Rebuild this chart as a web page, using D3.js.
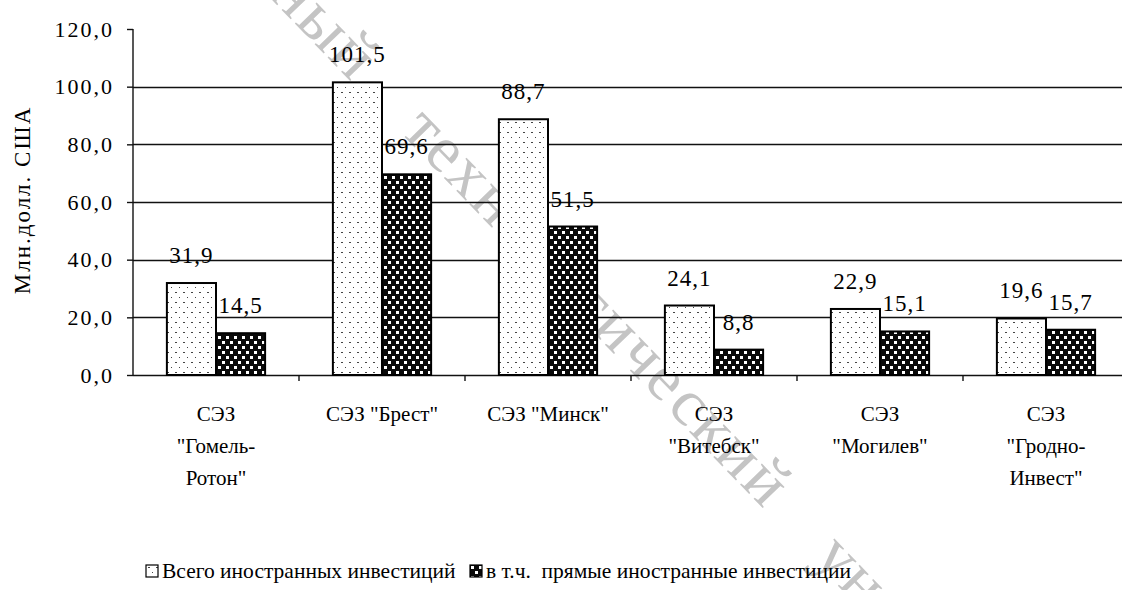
<!DOCTYPE html>
<html>
<head>
<meta charset="utf-8">
<title>СЭЗ инвестиции</title>
<script src="https://cdn.jsdelivr.net/npm/d3@7"></script>
<style>
  body { margin: 0; background: #fff; }
  svg text { font-family: "Liberation Serif", "Times New Roman", "DejaVu Serif", serif; fill: #000; }
</style>
</head>
<body>
<script>

// data
var categories = ["Гомель", "Брест", "Минск", "Витебск", "Могилев", "Гродно"];
var catLabels = [
  ["СЭЗ", "\"Гомель-", "Ротон\""],
  ["СЭЗ \"Брест\""],
  ["СЭЗ \"Минск\""],
  ["СЭЗ", "\"Витебск\""],
  ["СЭЗ", "\"Могилев\""],
  ["СЭЗ", "\"Гродно-", "Инвест\""]
];
var totalInv = [31.9, 101.5, 88.7, 24.1, 22.9, 19.6];
var directInv = [14.5, 69.6, 51.5, 8.8, 15.1, 15.7];
var seriesNames = ["Всего иностранных инвестиций", "в т.ч.  прямые иностранные инвестиции"];
var yTicks = [0, 20, 40, 60, 80, 100, 120];

var w = 1122, h = 590;
var mLeft = 133, mRight = 1129, mTop = 29, mBottom = 375;

var svg = d3.select("body").append("svg")
  .attr("width", w)
  .attr("height", h)
  .attr("font-family", "Liberation Serif, serif");

// fill patterns
var defs = svg.append("defs");
var pLight = defs.append("pattern")
  .attr("id", "light")
  .attr("patternUnits", "userSpaceOnUse")
  .attr("width", 8).attr("height", 10);
pLight.append("rect").attr("width", 8).attr("height", 10).attr("fill", "#fff");
pLight.append("rect").attr("x", 2).attr("y", 2).attr("width", 2).attr("height", 1).attr("fill", "#444");
pLight.append("rect").attr("x", 6).attr("y", 7).attr("width", 1).attr("height", 1).attr("fill", "#444");

var pDark = defs.append("pattern")
  .attr("id", "dark")
  .attr("patternUnits", "userSpaceOnUse")
  .attr("width", 8).attr("height", 10);
pDark.append("rect").attr("width", 8).attr("height", 10).attr("fill", "#0a0a0a");
pDark.append("rect").attr("x", 1).attr("y", 1).attr("width", 3).attr("height", 3).attr("fill", "#fff");
pDark.append("rect").attr("x", 5).attr("y", 6).attr("width", 3).attr("height", 3).attr("fill", "#fff");

// watermark from the scan
var wm = svg.append("g")
  .attr("transform", "translate(600,305) rotate(46)")
  .style("font-size", "66px")
  .attr("letter-spacing", 3);
wm.append("text").attr("x", 0).attr("y", 24).attr("text-anchor", "middle")
  .style("fill", "#c4c4c4").text("технологический");
wm.append("text").attr("x", -330).attr("y", 24).attr("text-anchor", "end")
  .style("fill", "#c4c4c4").text("государственный");
wm.append("text").attr("x", 330).attr("y", 24).attr("text-anchor", "start")
  .style("fill", "#c4c4c4").text("университет");

var y = d3.scaleLinear().domain([0, 120]).range([mBottom, mTop]);
var x0 = d3.scaleBand().domain(categories).range([mLeft, mRight]);
var x1 = d3.scaleBand().domain([0, 1]).range([0, x0.bandwidth()]).paddingOuter(0.69);

// gridlines (not at 0 or 120)
svg.append("g").selectAll("line")
  .data(yTicks.filter(function(d){ return d > 0 && d < 120; }))
  .enter().append("line")
  .attr("x1", mLeft).attr("x2", w)
  .attr("y1", function(d){ return Math.round(y(d)) + 0.5; })
  .attr("y2", function(d){ return Math.round(y(d)) + 0.5; })
  .attr("stroke", "#111")
  .attr("stroke-width", 1.4);

// y axis
var yAxis = d3.axisLeft(y)
  .tickValues(yTicks)
  .tickSize(6)
  .tickPadding(13)
  .tickFormat(function(d){ return d3.format(".1f")(d).replace(".", ","); });
var gy = svg.append("g").attr("transform", "translate(" + mLeft + ",0)").call(yAxis);
gy.attr("font-family", null);
gy.select(".domain").attr("stroke", "#111").attr("stroke-width", 1.4).attr("d", "M0," + mTop + "V" + mBottom);
gy.selectAll(".tick line").attr("stroke", "#111").attr("stroke-width", 1.4);
gy.selectAll("text")
  .attr("font-size", 22)
  .attr("letter-spacing", 2)
  .style("fill", "#000");

// x axis line and category boundary ticks
svg.append("line")
  .attr("x1", mLeft).attr("x2", w)
  .attr("y1", mBottom + 0.5).attr("y2", mBottom + 0.5)
  .attr("stroke", "#111").attr("stroke-width", 1.4);
svg.append("g").selectAll("line")
  .data(categories.slice(1))
  .enter().append("line")
  .attr("x1", function(d){ return x0(d); })
  .attr("x2", function(d){ return x0(d); })
  .attr("y1", mBottom).attr("y2", mBottom + 6)
  .attr("stroke", "#111").attr("stroke-width", 1.4);

// bars
var rows = categories.map(function(c, i){
  return { cat: c, vals: [totalInv[i], directInv[i]] };
});
var groups = svg.append("g").selectAll("g")
  .data(rows)
  .enter().append("g")
  .attr("transform", function(d){ return "translate(" + x0(d.cat) + ",0)"; });

groups.selectAll("rect")
  .data(function(d){ return d.vals; })
  .enter().append("rect")
  .attr("x", function(d, i){ return x1(i); })
  .attr("y", function(d){ return y(d); })
  .attr("width", x1.bandwidth())
  .attr("height", function(d){ return mBottom - y(d); })
  .attr("fill", function(d, i){ return i == 0 ? "url(#light)" : "url(#dark)"; })
  .attr("stroke", "#000")
  .attr("stroke-width", 2);

groups.selectAll("text")
  .data(function(d){ return d.vals; })
  .enter().append("text")
  .attr("x", function(d, i){ return x1(i) + x1.bandwidth() / 2; })
  .attr("y", function(d){ return y(d) - 20; })
  .attr("text-anchor", "middle")
  .attr("font-size", 23)
  .attr("letter-spacing", 1)
  .text(function(d){ return d3.format(".1f")(d).replace(".", ","); });

// category labels
svg.append("g").selectAll("text")
  .data(categories)
  .enter().append("text")
  .attr("x", function(d){ return x0(d) + x0.bandwidth() / 2; })
  .attr("y", 421)
  .attr("text-anchor", "middle")
  .attr("font-size", 21)
  .each(function(d, i){
    var t = d3.select(this);
    catLabels[i].forEach(function(line, k){
      t.append("tspan")
        .attr("x", x0(d) + x0.bandwidth() / 2)
        .attr("dy", k == 0 ? 0 : 32)
        .text(line);
    });
  });

// y axis title
svg.append("text")
  .attr("transform", "translate(30,200) rotate(-90)")
  .attr("text-anchor", "middle")
  .attr("font-size", 23)
  .attr("letter-spacing", 2)
  .text("Млн.долл. США");

// legend
var legendX = [146, 470];
var legend = svg.append("g").selectAll("g")
  .data(seriesNames)
  .enter().append("g")
  .attr("transform", function(d, i){ return "translate(" + legendX[i] + ",565)"; });
legend.append("rect")
  .attr("width", 12).attr("height", 12)
  .attr("fill", function(d, i){ return i == 0 ? "url(#light)" : "url(#dark)"; })
  .attr("stroke", "#000").attr("stroke-width", 1.2);
legend.append("text")
  .attr("x", 16).attr("y", 13)
  .attr("font-size", 21.5)
  .style("white-space", "pre")
  .text(function(d){ return d; });

</script>
</body>
</html>
